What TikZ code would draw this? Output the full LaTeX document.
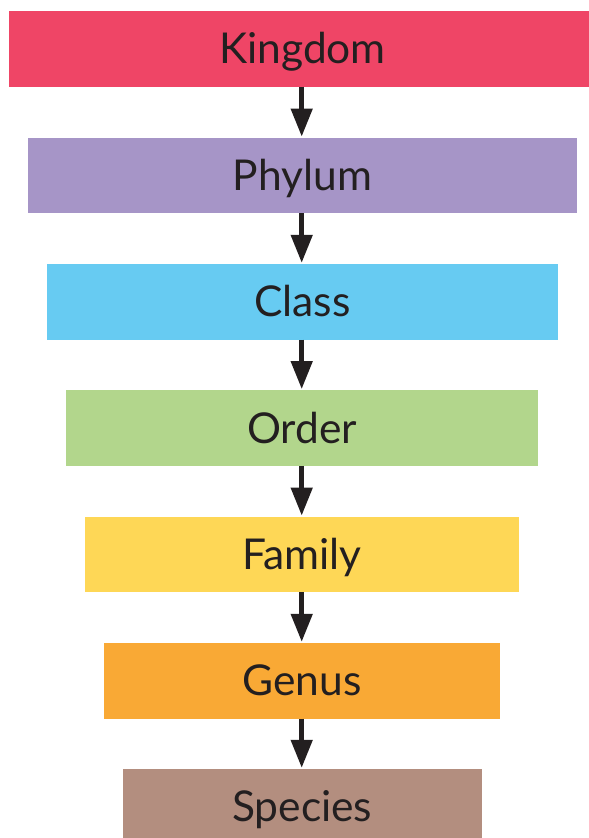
\documentclass[tikz,border=0pt]{standalone}
\usepackage{fontspec}
\setmainfont{Lato}
\usetikzlibrary{arrows.meta}
\definecolor{cKingdom}{HTML}{EF4566}
\definecolor{cPhylum}{HTML}{A695C7}
\definecolor{cClass}{HTML}{67CBF2}
\definecolor{cOrder}{HTML}{B2D68C}
\definecolor{cFamily}{HTML}{FED756}
\definecolor{cGenus}{HTML}{F9A935}
\definecolor{cSpecies}{HTML}{B38E7F}
\definecolor{ink}{HTML}{231F20}
\begin{document}
\begin{tikzpicture}[x=1pt,y=1pt,
  rankbox/.style={rectangle, fill=#1, draw=none, minimum height=75.5pt, inner sep=0pt,
    text=ink, font=\fontsize{42.5}{46}\selectfont, text height=30.4pt, text depth=0pt},
  down/.style={draw=ink, line width=4.7pt, -{Triangle[width=21pt,length=28pt]}, shorten >=1pt}]
\useasboundingbox (0,0) rectangle (589,-838);
\begin{scope}
\clip (0,0) rectangle (589,-838);
\node[rankbox=cKingdom, minimum width=587pt] (k) at (302.5,-48.75) {Kingdom};
\node[rankbox=cPhylum,  minimum width=549pt] (p) at (302.5,-175.5) {Phylum};
\node[rankbox=cClass,   minimum width=510.5pt] (c) at (302.3,-301.75) {Class};
\node[rankbox=cOrder,   minimum width=472pt] (o) at (302.2,-428) {Order};
\node[rankbox=cFamily,  minimum width=434pt] (f) at (302.2,-554.5) {Family};
\node[rankbox=cGenus,   minimum width=396pt] (g) at (302.2,-680.75) {Genus};
\node[rankbox=cSpecies, minimum width=359pt] (s) at (302.2,-806.75) {Species};
\end{scope}
\foreach \a/\b in {k/p,p/c,c/o,o/f,f/g,g/s}
  \draw[down] (\a.south -| 301.7,0) -- (\b.north -| 301.7,0);
\end{tikzpicture}
\end{document}
